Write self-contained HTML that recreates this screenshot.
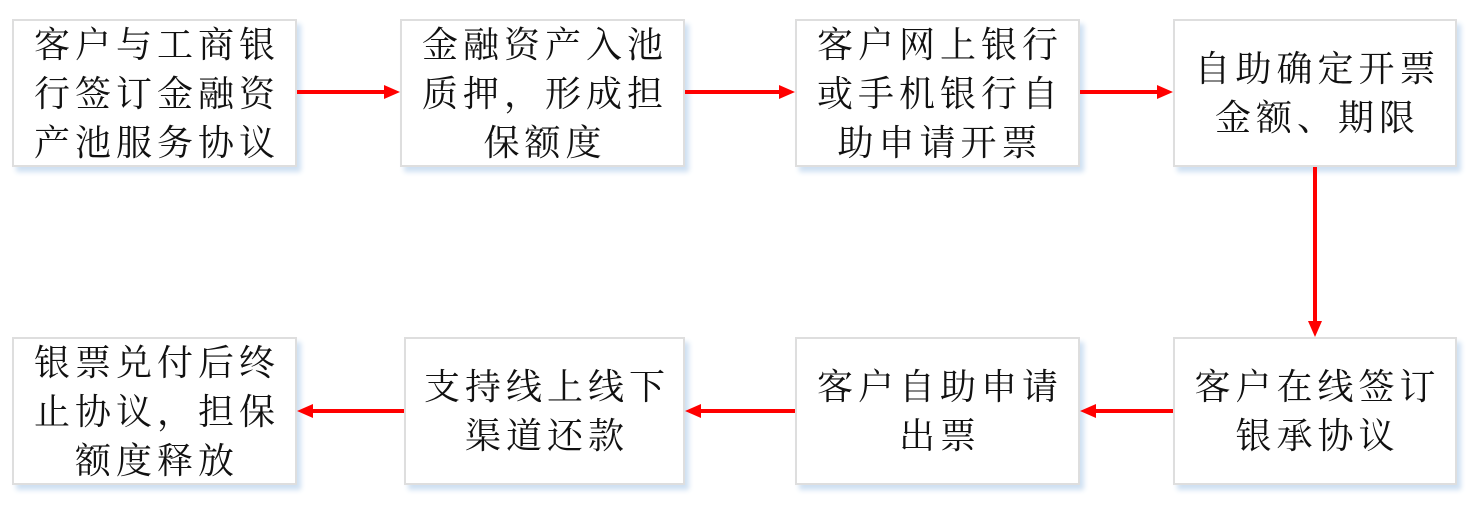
<!DOCTYPE html><html><head><meta charset="utf-8"><style>
body{margin:0;width:1478px;height:524px;background:#fff;position:relative;overflow:hidden;font-family:"Liberation Sans","Noto Serif CJK SC","Noto Sans CJK SC",serif;}
.b{position:absolute;box-sizing:border-box;border:2px solid #dedede;background:#fff;box-shadow:4px 5px 5px #cfe0f2;display:flex;align-items:center;justify-content:center;text-align:center;font-size:36px;line-height:49px;color:#111;letter-spacing:5px;padding-left:5px;}
svg{position:absolute;left:0;top:0}
</style></head><body>
<div class="b" style="left:12px;top:19px;width:285px;height:148px">客户与工商银<br>行签订金融资<br>产池服务协议</div>
<div class="b" style="left:400px;top:19px;width:285px;height:148px">金融资产入池<br>质押，形成担<br>保额度</div>
<div class="b" style="left:795px;top:19px;width:285px;height:148px">客户网上银行<br>或手机银行自<br>助申请开票</div>
<div class="b" style="left:1173px;top:19px;width:284px;height:148px">自助确定开票<br>金额、期限</div>
<div class="b" style="left:12px;top:337px;width:285px;height:148px">银票兑付后终<br>止协议，担保<br>额度释放</div>
<div class="b" style="left:404px;top:337px;width:281px;height:148px">支持线上线下<br>渠道还款</div>
<div class="b" style="left:795px;top:337px;width:285px;height:148px">客户自助申请<br>出票</div>
<div class="b" style="left:1173px;top:337px;width:284px;height:148px">客户在线签订<br>银承协议</div>
<svg width="1478" height="524"><g fill="#f00" stroke="#f00" stroke-width="4">
<line x1="297" y1="92" x2="386" y2="92"/><polygon points="400,92 384,85 384,99" stroke="none"/>
<line x1="685" y1="92" x2="781" y2="92"/><polygon points="795,92 779,85 779,99" stroke="none"/>
<line x1="1080" y1="92" x2="1159" y2="92"/><polygon points="1173,92 1157,85 1157,99" stroke="none"/>
<line x1="1315" y1="167" x2="1315" y2="323"/><polygon points="1315,337 1308,321 1322,321" stroke="none"/>
<line x1="1173" y1="411" x2="1094" y2="411"/><polygon points="1080,411 1096,404 1096,418" stroke="none"/>
<line x1="795" y1="411" x2="699" y2="411"/><polygon points="685,411 701,404 701,418" stroke="none"/>
<line x1="404" y1="411" x2="311" y2="411"/><polygon points="297,411 313,404 313,418" stroke="none"/>
</g></svg>
</body></html>
